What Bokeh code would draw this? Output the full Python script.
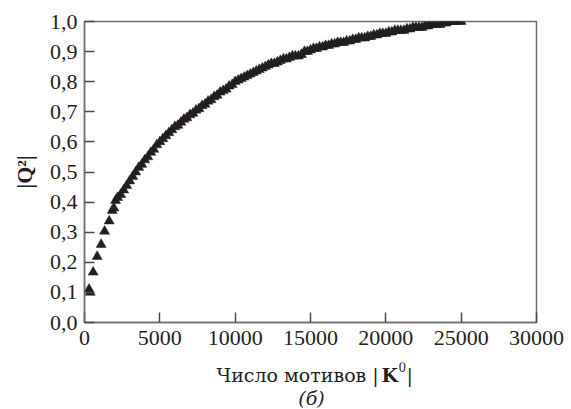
from bokeh.plotting import figure
from bokeh.models import FixedTicker, CustomJSTickFormatter, Label
from bokeh.layouts import column
from bokeh.embed import file_html
from bokeh.resources import INLINE

# ---- data ----
motifs = [300, 380, 575, 840, 1105, 1330, 1640, 1840, 1950, 2060,
          2200, 2400, 2600, 2800, 3000, 3200, 3400, 3600, 3800, 4000,
          4200, 4400, 4600, 4800, 5000, 5200, 5400, 5600, 5800, 6000,
          6200, 6400, 6600, 6800, 7000, 7200, 7400, 7600, 7800, 8000,
          8200, 8400, 8600, 8800, 9000, 9200, 9400, 9600, 9800, 10000,
          10200, 10400, 10600, 10800, 11000, 11200, 11400, 11600, 11800, 12000,
          12200, 12400, 12600, 12800, 13000, 13200, 13400, 13600, 13800, 14000,
          14200, 14400, 14600, 14800, 15000, 15200, 15400, 15600, 15800, 16000,
          16200, 16400, 16600, 16800, 17000, 17200, 17400, 17600, 17800, 18000,
          18200, 18400, 18600, 18800, 19000, 19200, 19400, 19600, 19800, 20000,
          20200, 20400, 20600, 20800, 21000, 21200, 21400, 21600, 21800, 22000,
          22200, 22400, 22600, 22800, 23000, 23200, 23400, 23600, 23800, 24000,
          24200, 24400, 24600, 24800, 25000]

q2 = [0.110, 0.100, 0.167, 0.219, 0.259, 0.303, 0.337, 0.372, 0.380, 0.405,
      0.415, 0.425, 0.440, 0.455, 0.470, 0.485, 0.500, 0.515, 0.525, 0.540,
      0.550, 0.565, 0.575, 0.590, 0.600, 0.610, 0.620, 0.630, 0.640, 0.650,
      0.655, 0.665, 0.675, 0.680, 0.690, 0.695, 0.705, 0.710, 0.720, 0.725,
      0.735, 0.740, 0.750, 0.755, 0.765, 0.770, 0.775, 0.785, 0.790, 0.800,
      0.805, 0.810, 0.815, 0.820, 0.825, 0.830, 0.835, 0.840, 0.845, 0.850,
      0.855, 0.860, 0.860, 0.865, 0.870, 0.875, 0.875, 0.880, 0.885, 0.885,
      0.885, 0.890, 0.900, 0.900, 0.905, 0.910, 0.910, 0.915, 0.915, 0.920,
      0.920, 0.925, 0.925, 0.930, 0.930, 0.930, 0.935, 0.935, 0.940, 0.940,
      0.945, 0.945, 0.945, 0.950, 0.950, 0.955, 0.955, 0.960, 0.960, 0.960,
      0.965, 0.965, 0.970, 0.970, 0.970, 0.970, 0.975, 0.975, 0.980, 0.980,
      0.980, 0.980, 0.985, 0.985, 0.990, 0.990, 0.990, 0.990, 0.995, 0.995,
      1.000, 1.000, 1.000, 1.000, 1.000]

x_ticks = [0, 5000, 10000, 15000, 20000, 25000, 30000]
y_ticks = [0.0, 0.1, 0.2, 0.3, 0.4, 0.5, 0.6, 0.7, 0.8, 0.9, 1.0]

x_title = "Число мотивов |"
x_title_bold = "K"
x_title_sup = "0"
y_title = "|Q²|"
panel_tag = "(б)"

INK = "#231f20"
FRAME = "#6f6f6f"
FONT = "Liberation Serif"
CYR_FONT = "DejaVu Serif"
FS = "22px"

W = 571
MAIN_H = 362
BOT_H = 47
LEFT, RIGHT = 84, 536   # page x of the plot frame's left and right edges

# ---- main chart ----
p = figure(width=W, height=MAIN_H, x_range=(0, 30000), y_range=(0, 1.0),
           output_backend="svg", toolbar_location=None,
           min_border_left=LEFT, min_border_right=W - RIGHT,
           min_border_top=21, min_border_bottom=MAIN_H - 322)
p.grid.visible = False
p.background_fill_color = "white"
p.border_fill_color = "white"
p.outline_line_color = FRAME
p.outline_line_width = 1.5

p.scatter(motifs, q2, marker="triangle", size=10,
          fill_color=INK, line_color=INK, line_width=0.5)

for ax in (p.xaxis[0], p.yaxis[0]):
    ax.major_tick_in = 10
    ax.major_tick_out = 0
    ax.minor_tick_in = 0
    ax.minor_tick_out = 0
    ax.axis_line_color = FRAME
    ax.axis_line_width = 1.5
    ax.major_tick_line_color = "#4a4a4a"
    ax.major_tick_line_width = 1.5
    ax.major_label_text_font = FONT
    ax.major_label_text_font_size = FS
    ax.major_label_text_color = INK

p.xaxis.ticker = FixedTicker(ticks=x_ticks, minor_ticks=[])
p.yaxis.ticker = FixedTicker(ticks=y_ticks, minor_ticks=[])
p.yaxis.formatter = CustomJSTickFormatter(code="return tick.toFixed(1).replace('.', ',');")
p.xaxis.major_label_standoff = 8
p.yaxis.major_label_standoff = 7

p.yaxis.axis_label = y_title
p.yaxis.axis_label_text_font = FONT
p.yaxis.axis_label_text_font_size = FS
p.yaxis.axis_label_text_font_style = "bold"
p.yaxis.axis_label_text_color = INK
p.yaxis.axis_label_standoff = 10

# ---- bottom strip (its frame is aligned with the main frame by the column) ----
pb = figure(width=W, height=BOT_H, x_range=(LEFT, RIGHT), y_range=(0, BOT_H),
            output_backend="svg", toolbar_location=None,
            x_axis_type=None, y_axis_type=None,
            min_border_left=LEFT, min_border_right=W - RIGHT,
            min_border_top=0, min_border_bottom=0)
pb.grid.visible = False
pb.outline_line_color = None
pb.background_fill_color = "white"
pb.border_fill_color = "white"


def put(text, x, y, font=CYR_FONT, size="19px", style="normal", align="left"):
    # x in page pixels, y in page pixels from the top
    pb.add_layout(Label(x=x, y=MAIN_H + BOT_H - y, x_units="data", y_units="data",
                        text=text, text_font=font, text_font_size=size,
                        text_font_style=style, text_color=INK,
                        text_align=align, text_baseline="alphabetic"))


put(x_title, 216, 374)
put(x_title_bold, 381, 374, style="bold")
put(x_title_sup, 398, 366, size="12px")
put("|", 406, 374)
put(panel_tag, 311, 397, style="italic", align="center")

layout = column(p, pb)
open("out.html", "w").write(file_html(layout, INLINE))
